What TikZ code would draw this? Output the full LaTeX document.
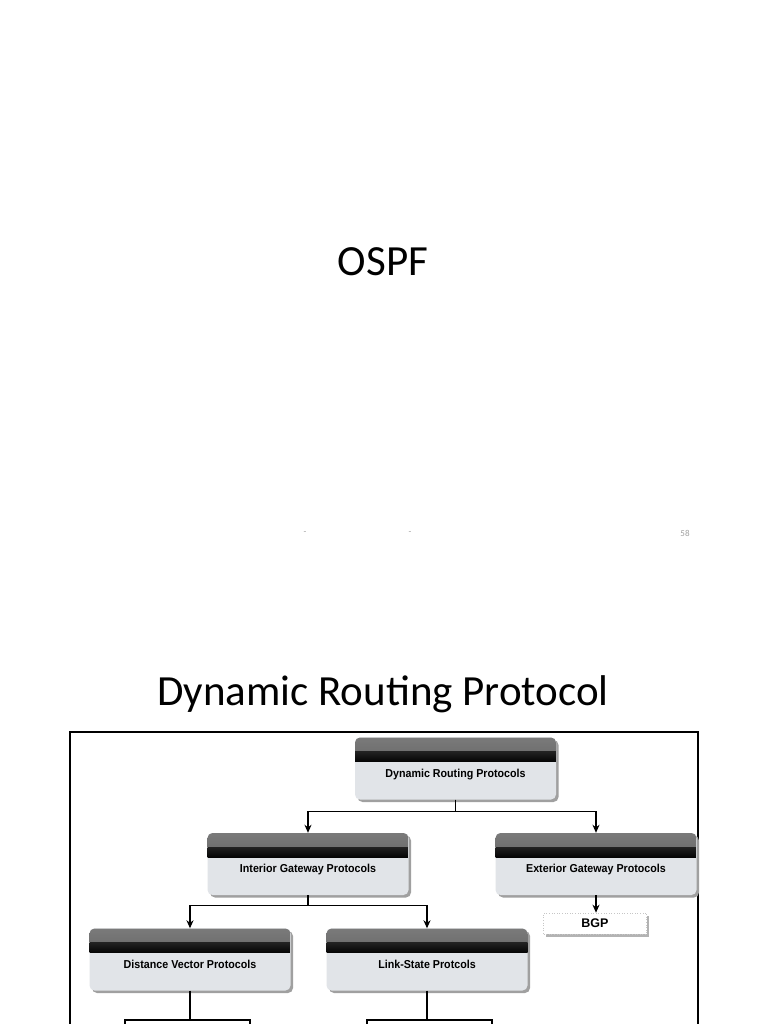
\documentclass[tikz,border=0pt]{standalone}
\usepackage{fontspec}
\setmainfont{Carlito}
\newfontfamily\narrowb[FakeStretch=0.93]{Liberation Sans}
\newfontfamily\plainsans{Liberation Sans}
\usetikzlibrary{arrows.meta,shadows}
\definecolor{hdtop}{HTML}{7A7A7A}
\definecolor{hdmid}{HTML}{4E4E4E}
\definecolor{hddark}{HTML}{222222}
\definecolor{hdbot}{HTML}{050505}
\definecolor{boxbody}{HTML}{E1E4E8}
\definecolor{shadowgray}{HTML}{A0A0A0}
\definecolor{notegray}{HTML}{A0A0A0}
\tikzset{
  pbox/.style={rectangle, minimum width=201pt, minimum height=62pt,
    rounded corners=5pt, fill=boxbody, inner sep=0pt,
    text height=20pt, text depth=3pt,
    font=\narrowb\bfseries\fontsize{11.5}{13}\selectfont,
    drop shadow={shadow xshift=2.5pt, shadow yshift=-2.5pt, fill=shadowgray, opacity=1},
    path picture={%
      \shade[sharp corners, top color=hdtop, bottom color=hdmid]
        (path picture bounding box.north west) rectangle
        ([yshift=-14pt]path picture bounding box.north east);
      \shade[sharp corners, top color=hddark, bottom color=hdbot]
        ([yshift=-14pt]path picture bounding box.north west) rectangle
        ([yshift=-24pt]path picture bounding box.north east);}},
  leafbox/.style={rectangle, minimum width=103pt, minimum height=21pt,
    fill=white, draw=shadowgray!60, dotted, line width=0.6pt, inner sep=0pt,
    font=\plainsans\bfseries\fontsize{12.5}{14}\selectfont,
    drop shadow={shadow xshift=2pt, shadow yshift=-2.5pt, fill=shadowgray!80, opacity=1, draw=none}},
  cutbox/.style={rectangle, minimum width=125pt, minimum height=40pt,
    fill=white, draw=black, line width=1.2pt},
  conn/.style={line width=1.4pt, draw=black},
  arr/.style={conn, -{Stealth[length=8pt,width=7pt,inset=2.5pt]}},
  title/.style={font=\fontsize{43}{50}\selectfont, text=black},
  note/.style={font=\fontsize{9}{11}\selectfont, text=notegray}
}
\begin{document}
\begin{tikzpicture}[x=1pt,y=-1pt]
\useasboundingbox (0,0) rectangle (768,1024);
\clip (0,0) rectangle (768,1024);
\fill[white] (0,0) rectangle (768,1024);
% slide 1
\node[title] (ospf) at (383,262) {OSPF};
\node[note] (d1) at (305,533) {-};
\node[note] (d2) at (410,533) {-};
\node[note] (pg) at (685,533) {58};
% slide 2
\node[title] (t2) at (383,694) {Dynamic Routing Protocol};
\node[draw=black, line width=2pt, minimum width=628pt, minimum height=320pt, inner sep=0pt] (frame) at (384,892) {};
\node[pbox] (drp) at (455.5,768.5) {Dynamic Routing Protocols};
\node[pbox] (igp) at (308,864) {Interior Gateway Protocols};
\node[pbox] (egp) at (596,864) {Exterior Gateway Protocols};
\node[leafbox] (bgp) at (595,923.5) {BGP};
\node[pbox] (dvp) at (190,959.5) {Distance Vector Protocols};
\node[pbox] (lsp) at (427,959.5) {Link-State Protcols};
\node[cutbox] (dvc) at (187.5,1040) {};
\node[cutbox] (lsc) at (429.5,1040) {};
\draw[arr] (drp.south) -- ++(0,12) -| (igp.north);
\draw[arr] (drp.south) -- ++(0,12) -| (egp.north);
\draw[arr] (egp.south) -- (egp.south |- bgp.north);
\draw[arr] (igp.south) -- ++(0,10) -| (dvp.north);
\draw[arr] (igp.south) -- ++(0,10) -| (lsp.north);
\draw[conn] (dvp.south) -- (dvp.south |- dvc.north);
\draw[conn] (lsp.south) -- (lsp.south |- lsc.north);
\end{tikzpicture}
\end{document}
